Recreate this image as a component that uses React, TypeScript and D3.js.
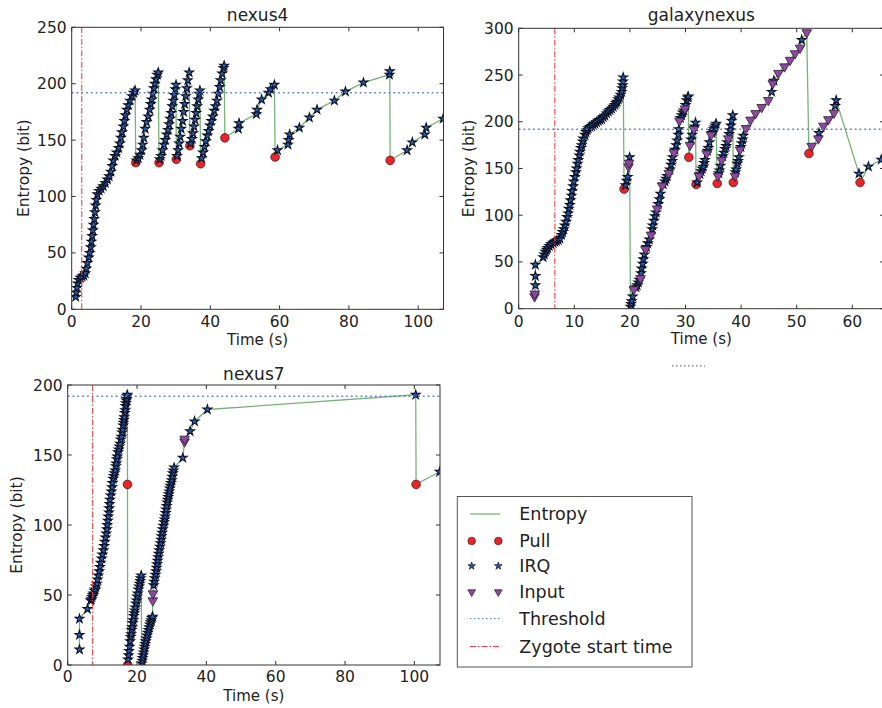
import React, { useRef, useEffect } from "react";
import * as d3 from "d3";

type Pt = [number, number];

// entropy events: [time (s), entropy (bit)]
const nexus4Irq: Pt[] = [
  [1.15, 11], [1.3, 15], [1.5, 19], [1.7, 23], [2.0, 26], [2.5, 28], [3.0, 29], [3.5, 30], [3.9, 32],
  [4.2, 36], [4.5, 41], [4.9, 46], [5.2, 50], [5.5, 55], [5.7, 60], [5.9, 65], [6.1, 70], [6.3, 75],
  [6.5, 80], [6.7, 86], [6.9, 92], [7.1, 97], [7.4, 102], [7.9, 105], [8.5, 107], [9.1, 109], [9.7, 112],
  [10.3, 115], [10.8, 118], [11.3, 122], [11.7, 127], [12.0, 132], [12.5, 136], [13.0, 139], [13.5, 143],
  [13.9, 147], [14.2, 152], [14.5, 157], [14.9, 162], [15.2, 167], [15.5, 172], [15.9, 177], [16.3, 181],
  [16.8, 185], [17.4, 189], [17.9, 192], [18.3, 194],
  [18.7, 132], [19.2, 134], [19.7, 137], [20.2, 141], [20.5, 146], [20.8, 152], [21.2, 160], [21.6, 166],
  [22.1, 171], [22.5, 177], [22.8, 182], [23.1, 186], [23.4, 191], [23.7, 196], [24.0, 200], [24.3, 204],
  [24.7, 208], [25.0, 210],
  [25.4, 133], [25.8, 136], [26.2, 141], [26.6, 146], [27.0, 150], [27.4, 155], [27.8, 159], [28.1, 164],
  [28.4, 169], [28.7, 174], [29.0, 180], [29.3, 185], [29.6, 190], [29.9, 195], [30.1, 199],
  [30.4, 136], [30.7, 141], [31.0, 147], [31.3, 153], [31.6, 160], [32.0, 167], [32.3, 175], [32.6, 182],
  [32.9, 189], [33.2, 196], [33.5, 203], [33.9, 210],
  [34.3, 147], [34.7, 151], [35.0, 156], [35.3, 162], [35.6, 168], [35.9, 174], [36.2, 180], [36.5, 186],
  [36.8, 191], [37.0, 194],
  [37.5, 134], [37.9, 139], [38.3, 144], [38.7, 149], [39.1, 154], [39.5, 158], [39.9, 163], [40.3, 167],
  [40.7, 171], [41.1, 176], [41.5, 180], [41.9, 185], [42.3, 191], [42.7, 197], [43.0, 203], [43.4, 209],
  [43.8, 214], [44.0, 216],
  [48.1, 160], [48.3, 165], [53.3, 173], [53.5, 177], [54.8, 186], [56.8, 192], [57.4, 195], [58.5, 199],
  [59.4, 141], [62.4, 146], [62.6, 150], [62.9, 155], [65.7, 161], [68.6, 170], [70.8, 177], [75.8, 185],
  [79.0, 193], [84.2, 201], [91.7, 208], [91.8, 211],
  [96.8, 141], [98.3, 148], [101.9, 155], [102.3, 161], [107.2, 169],
];
const nexus4Pull: Pt[] = [
  [18.5, 130], [25.2, 130], [30.2, 133], [34.1, 145], [37.2, 129], [44.2, 152], [58.7, 135], [91.9, 132],
];
const nexus4Input: Pt[] = [];

const galaxyIrq: Pt[] = [
  [3.0, 25], [3.0, 35], [3.0, 47],
  [4.4, 55], [4.6, 58], [4.8, 61], [5.0, 63], [5.2, 65], [5.5, 67], [5.8, 69], [6.2, 70.5], [6.5, 71.5],
  [6.8, 72.5], [7.1, 73.5], [7.4, 75], [7.7, 79], [7.9, 82], [8.1, 85], [8.3, 89], [8.5, 93], [8.7, 98],
  [8.9, 102], [9.0, 107], [9.2, 111], [9.3, 116], [9.5, 121], [9.6, 126], [9.8, 131], [9.9, 136],
  [10.1, 141], [10.3, 146], [10.4, 150], [10.6, 155], [10.7, 159], [10.9, 164], [11.0, 168], [11.2, 172],
  [11.3, 175], [11.5, 179], [11.6, 182], [11.9, 186], [12.1, 189], [12.3, 191], [12.5, 193], [12.8, 194.5],
  [13.1, 195.5], [13.4, 197], [13.7, 198], [14.0, 199.5], [14.3, 201], [14.6, 202], [14.9, 203],
  [15.2, 205], [15.5, 206.5], [15.8, 209], [16.1, 211], [16.4, 212.5], [16.7, 214], [17.0, 216],
  [17.3, 218], [17.5, 220], [17.7, 221.5], [17.9, 224], [18.1, 226], [18.3, 229], [18.5, 232],
  [18.6, 236], [18.7, 239], [18.75, 243], [18.8, 247.5],
  [19.2, 132], [19.4, 137], [19.6, 141], [19.95, 162],
  [20.1, 2], [20.2, 5], [20.3, 8], [20.5, 13], [21.1, 23], [21.3, 25], [21.5, 28], [21.7, 31], [22.0, 38],
  [22.1, 43], [22.3, 48], [22.4, 53], [22.6, 58], [23.0, 66], [23.2, 70], [23.5, 74], [24.0, 85],
  [24.1, 89], [24.3, 94], [24.5, 99], [24.7, 103], [25.1, 112], [25.3, 117], [25.5, 123], [26.0, 133],
  [26.3, 136], [26.5, 139], [26.7, 142], [27.2, 149], [27.4, 154], [27.6, 158], [27.7, 162], [28.1, 170],
  [28.3, 175], [28.5, 180], [28.7, 186], [28.8, 192], [29.1, 204], [29.3, 207], [29.5, 210], [29.7, 212],
  [30.0, 218], [30.2, 223], [30.4, 226], [30.5, 227],
  [31.0, 181], [31.2, 186], [31.65, 195], [31.8, 199],
  [32.1, 135], [32.6, 144], [32.8, 147], [33.0, 150], [33.2, 152], [33.35, 156], [33.5, 159], [33.95, 169],
  [34.1, 172], [34.3, 178], [34.75, 188], [34.9, 190], [35.05, 192], [35.2, 194], [35.35, 196], [35.5, 198],
  [36.0, 145], [36.1, 148], [36.3, 153], [36.7, 163], [36.9, 167], [37.1, 171], [37.3, 174], [37.5, 178],
  [37.85, 187], [38.0, 191], [38.15, 196], [38.3, 201], [38.5, 207],
  [39.0, 146], [39.1, 149], [39.3, 155], [39.45, 158], [39.6, 162], [39.95, 173], [40.1, 177], [40.25, 181],
  [40.4, 185],
  [45.5, 232], [45.9, 244], [50.9, 287.5], [54.0, 188], [56.9, 217], [57.1, 223],
  [61.2, 144.5], [62.9, 152], [65.2, 159.5],
];
const galaxyPull: Pt[] = [
  [18.95, 128], [30.6, 162], [31.9, 133], [35.7, 134], [38.6, 135], [52.2, 166], [61.4, 135],
];
const galaxyInput: Pt[] = [
  [2.85, 13], [2.9, 16], [19.75, 152], [19.85, 156], [20.7, 20.5], [21.9, 32.5], [22.8, 63.5], [23.8, 79],
  [24.9, 107], [25.8, 131.5], [27.0, 145], [27.9, 167], [28.9, 201], [29.9, 214], [30.8, 175], [31.5, 192],
  [32.4, 142], [33.8, 166], [34.6, 186], [35.85, 142], [36.5, 159], [37.7, 182], [38.9, 142], [39.8, 170],
  [40.9, 193], [41.7, 202], [42.6, 209], [43.7, 215.5], [44.9, 223], [45.7, 241], [46.7, 252], [47.8, 259],
  [48.8, 266], [49.7, 273], [50.6, 279], [51.8, 295.5], [52.7, 174], [53.9, 182], [54.8, 195.5],
  [55.7, 202.5], [56.7, 209.5],
];

const nexus7Irq: Pt[] = [
  [3.4, 11], [3.4, 21.5], [3.4, 33], [5.7, 40],
  [6.6, 46], [6.8, 47], [7.0, 48.5], [7.2, 50], [7.4, 51], [7.7, 53], [7.9, 54], [8.1, 56], [8.4, 58],
  [8.6, 61], [8.8, 64], [9.1, 67], [9.3, 70], [9.5, 73], [9.8, 76], [10.0, 79], [10.3, 82], [10.5, 85],
  [10.7, 88], [10.9, 91], [11.1, 94], [11.3, 97], [11.4, 100], [11.6, 103], [11.7, 106], [11.9, 109],
  [12.0, 112], [12.1, 115], [12.2, 118], [12.4, 121], [12.6, 124], [12.8, 127], [12.9, 130], [13.1, 133],
  [13.3, 135], [13.5, 137], [13.7, 139], [13.9, 142], [14.0, 144], [14.2, 147], [14.3, 149], [14.5, 152],
  [14.7, 154], [14.9, 156], [15.1, 158], [15.3, 161], [15.5, 163], [15.7, 166], [15.8, 168], [16.0, 171],
  [16.1, 173], [16.2, 175], [16.3, 177], [16.5, 180], [16.6, 182], [16.7, 185], [16.8, 187], [16.9, 189],
  [17.0, 190], [17.1, 192], [17.2, 193],
  [17.4, 4], [17.55, 7], [17.7, 10], [17.85, 13], [18.0, 17], [18.15, 20], [18.3, 22], [18.45, 25],
  [18.6, 27], [18.75, 30], [18.9, 32], [19.05, 35], [19.2, 37], [19.35, 39], [19.5, 41], [19.7, 44],
  [19.9, 46], [20.05, 49], [20.2, 51], [20.4, 54], [20.6, 56], [20.75, 58], [20.9, 60], [21.05, 62],
  [21.2, 64],
  [21.35, 1], [21.5, 3], [21.6, 5], [21.75, 7], [21.9, 9], [22.05, 11], [22.2, 13], [22.35, 15], [22.5, 17],
  [22.7, 19], [22.9, 21], [23.1, 23], [23.3, 25], [23.5, 27], [23.7, 29], [23.9, 30.5], [24.1, 32],
  [24.3, 33.5], [24.5, 34.5],
  [24.8, 57], [24.95, 59.5], [25.1, 62], [25.3, 64.5], [25.5, 67], [25.65, 69.5], [25.8, 72], [25.95, 74.5],
  [26.1, 77], [26.25, 79.5], [26.4, 82], [26.6, 84.5], [26.8, 87], [26.95, 89.5], [27.1, 92], [27.25, 94.5],
  [27.4, 97], [27.6, 99.5], [27.8, 102], [27.95, 104], [28.1, 106], [28.25, 108.5], [28.4, 111],
  [28.55, 113.5], [28.7, 116], [28.85, 118], [29.0, 120], [29.15, 122], [29.3, 124], [29.45, 126],
  [29.6, 128], [29.8, 130], [30.0, 132], [30.15, 134.5], [30.3, 137], [30.5, 139], [30.7, 141],
  [33.2, 148], [35.3, 167], [36.6, 174], [40.3, 182.5], [100.4, 193], [107.3, 138],
];
const nexus7Pull: Pt[] = [[17.25, 129], [17.3, 0], [100.5, 129]];
const nexus7Input: Pt[] = [[24.55, 46], [24.6, 51], [33.7, 159.5], [33.75, 161.5]];

const panelTitles = ["nexus4", "galaxynexus", "nexus7"];
const zygoteStart = [2.9, 6.5, 7.2];
const thresholdBits = 192;
const xTicks4 = [0, 20, 40, 60, 80, 100];
const yTicks4 = [0, 50, 100, 150, 200, 250];
const xTicksGalaxy = [0, 10, 20, 30, 40, 50, 60];
const yTicksGalaxy = [0, 50, 100, 150, 200, 250, 300];
const xTicks7 = [0, 20, 40, 60, 80, 100];
const yTicks7 = [0, 50, 100, 150, 200];
const legendLabels = ["Entropy", "Pull", "IRQ", "Input", "Threshold", "Zygote start time"];

const W = 882;
const H = 708;
const FONT = "'DejaVu Sans', sans-serif";
const GREEN = "#2e8b2e";
const RED = "#e8262a";
const BLUE = "#2c5ba8";
const STAR_EDGE = "#0e1226";
const PURPLE = "#8b4a9e";
const THRESH = "#5a80c8";
const ZYG = "#ee4040";

const panels = [
  {
    id: "n4", title: panelTitles[0], irq: nexus4Irq, pull: nexus4Pull, input: nexus4Input,
    zygote: zygoteStart[0], xTicks: xTicks4, yTicks: yTicks4,
    left: 71.7, right: 443.5, top: 27.3, bottom: 309.3, xMax: 107.3, yMax: 250,
    titleY: 21, xTickY: 327, xLabelY: 345, yLabelX: 29,
  },
  {
    id: "gn", title: panelTitles[1], irq: galaxyIrq, pull: galaxyPull, input: galaxyInput,
    zygote: zygoteStart[1], xTicks: xTicksGalaxy, yTicks: yTicksGalaxy,
    left: 518.7, right: 884, top: 28.3, bottom: 308.7, xMax: 65.7, yMax: 300,
    titleY: 21, xTickY: 327, xLabelY: 344, yLabelX: 474,
  },
  {
    id: "n7", title: panelTitles[2], irq: nexus7Irq, pull: nexus7Pull, input: nexus7Input,
    zygote: zygoteStart[2], xTicks: xTicks7, yTicks: yTicks7,
    left: 67.7, right: 440, top: 385, bottom: 665, xMax: 107.4, yMax: 200,
    titleY: 380, xTickY: 682, xLabelY: 701, yLabelX: 22,
  },
];

const starPath = (size: number) => d3.symbol().type(d3.symbolStar).size(size)() as string;
const triPath = (size: number) => d3.symbol().type(d3.symbolTriangle).size(size)() as string;

const App = () => {
  const ref = useRef<SVGSVGElement>(null);

  useEffect(() => {
    const svg = d3.select(ref.current);
    svg.selectAll("*").remove();
    const defs = svg.append("defs");

    svg.append("rect").attr("width", W).attr("height", H).attr("fill", "#fff");

    panels.forEach((p) => {
      const x = d3.scaleLinear().domain([0, p.xMax]).range([p.left, p.right]);
      const y = d3.scaleLinear().domain([0, p.yMax]).range([p.bottom, p.top]);
      const g = svg.append("g");

      defs.append("clipPath").attr("id", `clip-${p.id}`)
        .append("rect")
        .attr("x", p.left).attr("y", p.top)
        .attr("width", p.right - p.left).attr("height", p.bottom - p.top);

      const plot = g.append("g").attr("clip-path", `url(#clip-${p.id})`);

      const events = [
        ...p.irq.map((d) => ({ t: d[0], e: d[1] })),
        ...p.pull.map((d) => ({ t: d[0], e: d[1] })),
        ...p.input.map((d) => ({ t: d[0], e: d[1] })),
      ].sort((a, b) => a.t - b.t);

      const line = d3.line<{ t: number; e: number }>().x((d) => x(d.t)).y((d) => y(d.e));
      plot.append("path").datum(events)
        .attr("d", line)
        .attr("fill", "none")
        .attr("stroke", GREEN)
        .attr("stroke-opacity", 0.65)
        .attr("stroke-width", 1.3);

      plot.selectAll(".pull").data(p.pull).enter().append("circle")
        .attr("cx", (d) => x(d[0])).attr("cy", (d) => y(d[1])).attr("r", 4.3)
        .attr("fill", RED).attr("stroke", "#5a1414").attr("stroke-width", 0.8);

      plot.selectAll(".irq").data(p.irq).enter().append("path")
        .attr("d", starPath(24))
        .attr("transform", (d) => `translate(${x(d[0])},${y(d[1])})`)
        .attr("fill", BLUE).attr("stroke", STAR_EDGE).attr("stroke-width", 1.1);

      plot.selectAll(".inp").data(p.input).enter().append("path")
        .attr("d", triPath(40))
        .attr("transform", (d) => `translate(${x(d[0])},${y(d[1])}) rotate(180)`)
        .attr("fill", PURPLE).attr("stroke", "#2e1a36").attr("stroke-width", 0.8);

      plot.append("line")
        .attr("x1", p.left).attr("x2", p.right)
        .attr("y1", y(thresholdBits)).attr("y2", y(thresholdBits))
        .attr("stroke", THRESH).attr("stroke-width", 1.5).attr("stroke-dasharray", "1.8,3");

      plot.append("line")
        .attr("x1", x(p.zygote)).attr("x2", x(p.zygote))
        .attr("y1", p.top).attr("y2", p.bottom)
        .attr("stroke", ZYG).attr("stroke-width", 1.1).attr("stroke-dasharray", "6,2,1.5,2");

      g.append("rect")
        .attr("x", p.left).attr("y", p.top)
        .attr("width", p.right - p.left).attr("height", p.bottom - p.top)
        .attr("fill", "none").attr("stroke", "#333").attr("stroke-width", 1);

      p.xTicks.forEach((v) => {
        g.append("line").attr("x1", x(v)).attr("x2", x(v)).attr("y1", p.bottom).attr("y2", p.bottom - 4)
          .attr("stroke", "#333");
        g.append("line").attr("x1", x(v)).attr("x2", x(v)).attr("y1", p.top).attr("y2", p.top + 4)
          .attr("stroke", "#333");
        g.append("text").attr("x", x(v)).attr("y", p.xTickY)
          .attr("text-anchor", "middle").style("font-family", FONT).style("font-size", "15.5px")
          .attr("fill", "#222").text(v);
      });

      p.yTicks.forEach((v) => {
        g.append("line").attr("x1", p.left).attr("x2", p.left + 4).attr("y1", y(v)).attr("y2", y(v))
          .attr("stroke", "#333");
        g.append("line").attr("x1", p.right).attr("x2", p.right - 4).attr("y1", y(v)).attr("y2", y(v))
          .attr("stroke", "#333");
        g.append("text").attr("x", p.left - 5).attr("y", y(v) + 5.5)
          .attr("text-anchor", "end").style("font-family", FONT).style("font-size", "15.5px")
          .attr("fill", "#222").text(v);
      });

      const cx = (p.left + p.right) / 2;
      g.append("text").attr("x", cx).attr("y", p.titleY)
        .attr("text-anchor", "middle").style("font-family", FONT).style("font-size", "17px")
        .attr("fill", "#222").text(p.title);
      g.append("text").attr("x", cx).attr("y", p.xLabelY)
        .attr("text-anchor", "middle").style("font-family", FONT).style("font-size", "15px")
        .attr("fill", "#222").text("Time (s)");
      g.append("text")
        .attr("transform", `translate(${p.yLabelX},${(p.top + p.bottom) / 2}) rotate(-90)`)
        .attr("text-anchor", "middle").style("font-family", FONT).style("font-size", "15.5px")
        .attr("fill", "#222").text("Entropy (bit)");
    });

    // stray dotted mark under the galaxynexus panel
    svg.append("line").attr("x1", 672).attr("x2", 705).attr("y1", 366).attr("y2", 366)
      .attr("stroke", "#556").attr("stroke-width", 1).attr("stroke-dasharray", "1.5,2.5");

    // legend
    const lg = svg.append("g");
    lg.append("rect").attr("x", 457.3).attr("y", 496.5).attr("width", 234.7).attr("height", 170.5)
      .attr("fill", "#fff").attr("stroke", "#555").attr("stroke-width", 1);
    const rowY = [514, 541, 566, 592, 618.5, 646.5];
    const mx = [471.7, 498.3];
    legendLabels.forEach((label, i) => {
      const yy = rowY[i];
      if (i === 0) {
        lg.append("line").attr("x1", 470).attr("x2", 500).attr("y1", yy).attr("y2", yy)
          .attr("stroke", GREEN).attr("stroke-opacity", 0.7).attr("stroke-width", 1.2);
      } else if (i === 1) {
        mx.forEach((m) => lg.append("circle").attr("cx", m).attr("cy", yy).attr("r", 3.8)
          .attr("fill", RED).attr("stroke", "#5a1414").attr("stroke-width", 0.7));
      } else if (i === 2) {
        mx.forEach((m) => lg.append("path").attr("d", starPath(18))
          .attr("transform", `translate(${m},${yy})`)
          .attr("fill", BLUE).attr("stroke", STAR_EDGE).attr("stroke-width", 0.7));
      } else if (i === 3) {
        mx.forEach((m) => lg.append("path").attr("d", triPath(26))
          .attr("transform", `translate(${m},${yy}) rotate(180)`)
          .attr("fill", PURPLE).attr("stroke", "#2e1a36").attr("stroke-width", 0.7));
      } else if (i === 4) {
        lg.append("line").attr("x1", 470).attr("x2", 500).attr("y1", yy).attr("y2", yy)
          .attr("stroke", THRESH).attr("stroke-width", 1.1).attr("stroke-dasharray", "1.5,2.5");
      } else {
        lg.append("line").attr("x1", 470).attr("x2", 500).attr("y1", yy).attr("y2", yy)
          .attr("stroke", ZYG).attr("stroke-width", 1.1).attr("stroke-dasharray", "6,2,1.5,2");
      }
      lg.append("text").attr("x", 519.3).attr("y", yy + 6)
        .style("font-family", FONT).style("font-size", "17.5px").attr("fill", "#222").text(label);
    });
  }, []);

  return (
    <svg ref={ref} width={W} height={H} style={{ position: "absolute", left: 0, top: 0 }}></svg>
  );
};

export default App;
